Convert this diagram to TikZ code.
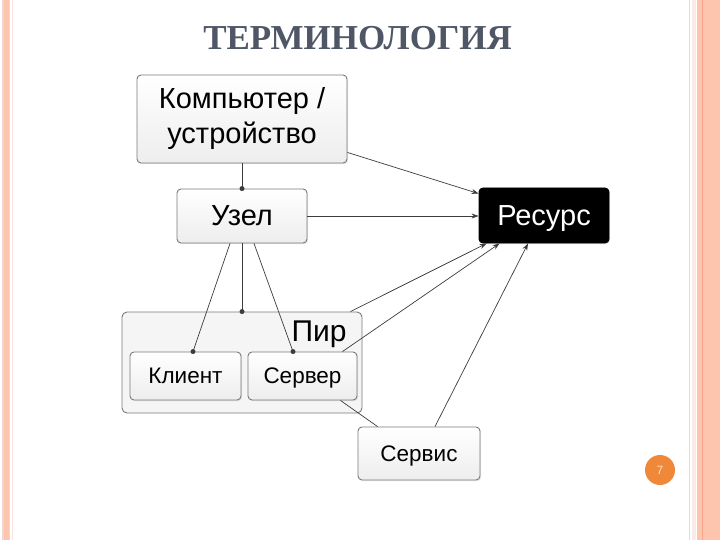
\documentclass[tikz,border=0pt]{standalone}
\usepackage{fontspec}
\setmainfont{Liberation Sans}
\newfontfamily\titlefont{Liberation Serif}
\usetikzlibrary{arrows.meta,calc,shadows}
\definecolor{titlegray}{HTML}{4F5666}
\definecolor{linegray}{HTML}{3C3C3C}
\definecolor{boxborder}{HTML}{7A7A7A}
\definecolor{salmon}{HTML}{FDC4AE}
\definecolor{salmondark}{HTML}{F4A58C}
\definecolor{salmonlight}{HTML}{F2D6CB}
\definecolor{pagenum}{HTML}{F0883A}
\tikzset{
  termbox/.style={draw=boxborder, line width=0.9pt, rounded corners=4pt,
    top color=white, bottom color=black!7, text=black,
    drop shadow={opacity=0.18, shadow xshift=1.2pt, shadow yshift=-1.2pt},
    inner sep=0pt, align=center},
  groupbox/.style={draw=boxborder, line width=0.9pt, rounded corners=5pt,
    fill=black!4, inner sep=0pt},
  conn/.style={draw=linegray, line width=0.7pt},
  arr/.style={conn, -{Stealth[length=7pt,width=5pt]}},
  dotmark/.style={circle, fill=linegray, inner sep=0pt, minimum size=5pt},
  bigtext/.style={font=\fontsize{29}{35}\selectfont},
  smalltext/.style={font=\fontsize{22.5}{26}\selectfont},
  oneline/.style={text depth=0pt},
}
\begin{document}
\begin{tikzpicture}[x=1pt,y=-1pt]
\useasboundingbox (0,0) rectangle (720,540);
\fill[white] (0,0) rectangle (720,540);
% side borders
\fill[salmonlight] (2,0) rectangle (4,540);
\fill[salmon] (4,0) rectangle (9,540);
\fill[salmonlight] (9,0) rectangle (10,540);
\draw[salmonlight!60, line width=0.6pt] (12,0) -- (12,540);
\draw[salmonlight, line width=1.2pt] (689.5,0) -- (689.5,540);
\fill[salmonlight!50] (692,0) rectangle (696,540);
\fill[salmon] (697,0) rectangle (720,540);
\draw[salmondark, line width=1pt] (702,0) -- (702,540);
% title
\node[font=\titlefont\bfseries\fontsize{35}{40}\selectfont, text=titlegray] (title) at (357.5,38.5) {ТЕРМИНОЛОГИЯ};
% group
\node[groupbox, minimum width=240pt, minimum height=101pt] (pir) at (242,362.5) {};
\node[font=\fontsize{30}{34}\selectfont, oneline, anchor=center] (pirlabel) at (319,331) {Пир};
% nodes
\node[termbox, bigtext, minimum width=210pt, minimum height=88pt] (comp) at (242,119) {Компьютер /\\устройство};
\node[termbox, bigtext, oneline, minimum width=130pt, minimum height=54pt] (uzel) at (242,216) {Узел};
\node[termbox, bigtext, oneline, draw=black, top color=black, bottom color=black, text=white, minimum width=130pt, minimum height=55pt] (res) at (544,215.5) {Ресурс};
\node[termbox, smalltext, oneline, minimum width=111pt, minimum height=48pt] (klient) at (185.5,376) {Клиент};
\node[termbox, smalltext, oneline, minimum width=109pt, minimum height=48pt] (server) at (302.5,376) {Сервер};
\node[termbox, smalltext, oneline, minimum width=122pt, minimum height=53pt] (servis) at (419,453.5) {Сервис};
% connectors
\draw[conn] (comp.south) -- (uzel.north) node[dotmark] (d1) {};
\draw[conn] (uzel.south) -- (pir.north) node[dotmark] (d2) {};
\coordinate (kl) at ($(klient.north)+(7.5,0)$);
\coordinate (sv) at ($(server.north)+(-9.5,0)$);
\draw[conn] ($(uzel.south)+(-12,0)$) -- (kl) node[dotmark] (d3) {};
\draw[conn] ($(uzel.south)+(12,0)$) -- (sv) node[dotmark] (d4) {};
\draw[arr] ($(comp.south east)+(0,-11)$) -- ($(res.north west)+(0,6)$);
\draw[arr] (uzel.east) -- (uzel.east -| res.west);
\draw[arr] ($(pir.north east)+(-12,0)$) -- ($(res.south west)+(8,0)$);
\draw[arr] ($(server.north east)+(-15,0)$) -- ($(res.south west)+(21,0)$);
\draw[conn] ($(server.south east)+(-17,0)$) -- ($(servis.north west)+(20,0)$);
\draw[arr] ($(servis.north)+(16,0)$) -- ($(res.south)+(-16,0)$);
% page number
\node[circle, fill=pagenum, minimum size=30pt, inner sep=0pt, text=orange!25, font=\fontsize{12}{14}\selectfont] (page) at (660,470) {7};
\end{tikzpicture}
\end{document}
